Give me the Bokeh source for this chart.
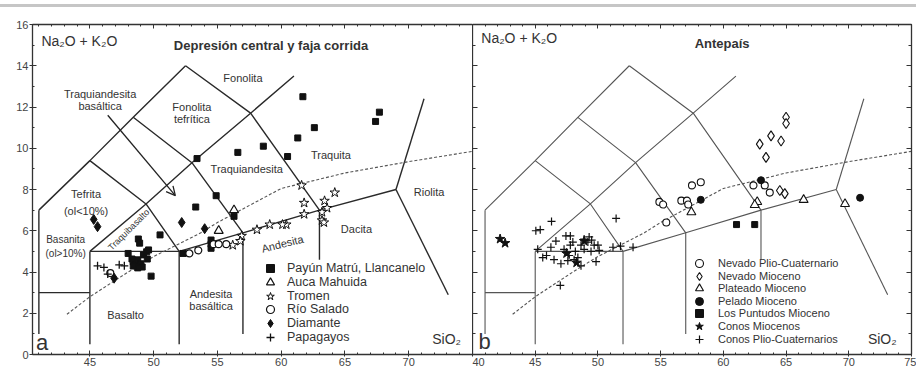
from bokeh.plotting import figure
from bokeh.models import (Range1d, LinearAxis, FixedTicker, Legend, LegendItem,
                          Label, Arrow, OpenHead, Div)
from bokeh.layouts import row, column
from bokeh.embed import file_html
from bokeh.resources import INLINE

FONT = "Liberation Sans"

# ---------------- data ----------------
# TAS field boundaries (SiO2, Na2O+K2O)
bound_x = [
    [41, 41], [41, 45], [45, 45], [41, 45, 48.4, 52.5], [52.5, 57.6, 63],
    [45, 49.4, 53, 57.6, 61], [45, 52], [52, 52], [45, 49.4, 52],
    [48.4, 53, 57], [57, 57], [52, 57, 63, 69], [63, 63], [69, 71.2], [69, 73.1],
]
bound_y = [
    [1.0, 7], [3, 3], [0.5, 5], [7, 9.4, 11.5, 14], [14, 11.7, 7],
    [5, 7.3, 9.3, 11.7, 13.5], [5, 5], [0.5, 5], [9.4, 7.3, 5],
    [11.5, 9.3, 5.9], [1.0, 5.9], [5, 5.9, 7, 8], [4.6, 7], [8, 12.4], [8, 2.9],
]
# Irvine & Baragar alkaline / subalkaline divide
ib_x = [43.2, 45, 48, 50, 53.7, 55, 60, 65, 70, 75]
ib_y = [1.95, 2.8, 4.0, 4.75, 5.9, 6.4, 8.05, 8.8, 9.35, 9.85]

# Panel a: Depresión central y faja corrida
payun_x = [61.7, 67.7, 67.4, 62.6, 61.3, 58.6, 56.6, 60.5, 53.4, 54.9, 53.3, 56.3,
           50.5, 48.8, 48.9, 48.0, 49.8, 52.3, 54.5, 54.5, 54.5,
           48.3, 48.4, 48.6, 48.75, 49.0, 49.2, 49.45, 49.6, 49.5, 49.1, 48.75, 48.4]
payun_y = [12.5, 11.75, 11.3, 11.0, 10.5, 10.1, 9.8, 9.6, 9.5, 7.7, 7.15, 6.7,
           5.8, 5.6, 5.4, 4.9, 3.8, 4.9, 5.15, 5.35, 5.55,
           4.63, 4.49, 4.34, 4.59, 4.4, 4.83, 4.98, 5.07, 4.63, 4.24, 4.2, 4.29]
auca_x = [56.3, 55.1]
auca_y = [7.0, 6.0]
tromen_x = [64.2, 63.4, 61.8, 61.6, 63.6, 63.2, 61.8, 63.2, 63.35, 60.4, 60.1, 59.1,
            58.1, 56.9, 56.8, 56.2]
tromen_y = [7.85, 7.45, 7.35, 8.2, 7.1, 6.9, 6.8, 6.5, 6.4, 6.3, 6.3, 6.3,
            6.05, 5.75, 5.5, 5.3]
salado_x = [52.8, 53.5, 54.7, 55.1, 55.7, 46.6]
salado_y = [4.9, 5.05, 5.35, 5.35, 5.35, 3.95]
diamante_x = [45.3, 45.6, 52.2, 54.0, 46.9]
diamante_y = [6.55, 6.2, 6.4, 6.1, 3.7]
papagayos_x = [45.6, 46.1, 47.3, 47.7, 46.4]
papagayos_y = [4.3, 4.22, 4.35, 4.3, 3.9]

# Panel b: Antepaís
nevpc_x = [57.5, 58.2, 54.9, 55.2, 56.65, 57.1, 57.2, 55.45, 62.4, 63.3, 63.7]
nevpc_y = [8.2, 8.35, 7.4, 7.27, 7.46, 7.46, 7.27, 6.4, 8.2, 8.2, 7.85]
nevm_x = [65.0, 65.0, 63.8, 64.6, 62.9, 63.4, 64.5, 64.9]
nevm_y = [11.5, 11.2, 10.6, 10.35, 10.2, 9.56, 7.95, 7.8]
plat_x = [57.45, 62.7, 62.5, 66.4, 69.7]
plat_y = [6.9, 7.4, 7.25, 7.5, 7.3]
pel_x = [58.2, 63.0, 70.9]
pel_y = [7.5, 8.45, 7.6]
punt_x = [61.05, 62.5]
punt_y = [6.3, 6.3]
conm_x = [42.2, 42.6, 48.9, 47.5, 48.3]
conm_y = [5.6, 5.4, 5.5, 4.9, 4.45]
conpc_x = [46.3, 45.05, 45.4, 51.45, 47.45, 47.8, 46.65, 46.25, 45.2, 45.6, 45.9, 46.5,
           47.05, 48.65, 49.85, 51.2, 51.8, 52.8, 50.1, 49.7, 49.2, 48.9, 48.0, 47.3,
           47.7, 48.4, 48.1, 47.8, 48.65, 49.45, 48.9, 47.6, 47.0, 49.3, 49.5, 50.0, 48.2]
conpc_y = [6.45, 6.0, 6.05, 6.6, 5.75, 5.75, 5.5, 5.2, 5.1, 4.7, 4.8, 4.6,
           4.4, 4.3, 4.5, 5.2, 5.25, 5.2, 5.05, 5.3, 5.45, 5.6, 5.45, 5.1,
           4.8, 4.7, 4.6, 5.3, 5.3, 5.0, 5.1, 4.55, 3.35, 5.7, 5.55, 5.3, 5.0]

legend_a = ["Payún Matrú, Llancanelo", "Auca Mahuida", "Tromen", "Río Salado",
            "Diamante", "Papagayos"]
legend_b = ["Nevado Plio-Cuaternario", "Nevado Mioceno", "Plateado Mioceno",
            "Pelado Mioceno", "Los Puntudos Mioceno", "Conos Miocenos",
            "Conos Plio-Cuaternarios"]

y_ticks = [0, 2, 4, 6, 8, 10, 12, 14, 16]

INK = "#222222"
FIG_H = 361


def style_axis(ax, labels=True, tin=4, tout=2, minor_in=2):
    ax.axis_line_color = "#333333"
    ax.axis_line_width = 1.3
    ax.major_tick_line_color = "#333333"
    ax.minor_tick_line_color = "#333333"
    ax.major_tick_in = tin
    ax.major_tick_out = tout
    ax.minor_tick_in = minor_in
    ax.minor_tick_out = 0
    ax.major_label_text_font = FONT
    ax.major_label_text_font_size = "11px"
    ax.major_label_text_color = "#444444"
    ax.major_label_standoff = 1
    if not labels:
        ax.major_label_text_font_size = "0px"
        ax.major_label_text_color = None
        ax.major_label_standoff = 0


def add_label(p, x, y, text, size="11px", bold=False, angle=0, align="center"):
    p.add_layout(Label(x=x, y=y, text=text, text_font=FONT, text_font_size=size,
                       text_color="#333333", text_align=align, text_baseline="middle",
                       text_font_style="bold" if bold else "normal",
                       angle=angle, angle_units="deg"))


def add_legend(p, labels, renderers, vx, vy_top, step, standoff, font_size):
    # one single-entry legend per row, so rows can be packed closer than the glyph box
    for i, (lab, r) in enumerate(zip(labels, renderers)):
        p.add_layout(Legend(items=[LegendItem(label=lab, renderers=[r])],
                            location=(vx, round(vy_top - step * i)), padding=0, margin=0,
                            spacing=0, border_line_color=None, background_fill_alpha=0,
                            glyph_width=20, glyph_height=20, label_height=12,
                            label_standoff=standoff, label_text_font=FONT,
                            label_text_font_size=font_size, label_text_color="#333333"))


def base_fig(width, xr, border_left, border_right, line_color, line_width):
    p = figure(width=width, height=FIG_H, x_range=Range1d(*xr), y_range=Range1d(0, 16),
               x_axis_type=None, y_axis_type=None, output_backend="svg",
               toolbar_location=None, min_border_left=border_left,
               min_border_right=border_right, min_border_top=17, min_border_bottom=0)
    p.outline_line_color = None
    p.background_fill_color = "white"
    p.border_fill_color = "white"
    p.multi_line(xs=bound_x, ys=bound_y, line_color=line_color, line_width=line_width)
    p.line(ib_x, ib_y, line_color="#555555", line_width=1.1, line_dash="3 2")
    return p


# ---------------- panel a ----------------
p1 = base_fig(472, (40.5, 75), 32, 0, "#2a2a2a", 1.4)
ax = LinearAxis(ticker=FixedTicker(ticks=[45, 50, 55, 60, 65, 70], minor_ticks=list(range(41, 76))))
style_axis(ax)
p1.add_layout(ax, "below")
ax = LinearAxis(ticker=FixedTicker(ticks=[45, 50, 55, 60, 65, 70], minor_ticks=list(range(41, 76))))
style_axis(ax, labels=False, tin=4, tout=0)
p1.add_layout(ax, "above")
ax = LinearAxis(ticker=FixedTicker(ticks=y_ticks, minor_ticks=list(range(0, 17))))
style_axis(ax, tin=4, tout=3)
p1.add_layout(ax, "left")

p1.add_layout(Arrow(end=OpenHead(size=9, line_width=1.3, line_color=INK),
                    x_start=46.4, y_start=11.6, x_end=51.7, y_end=7.7,
                    line_width=1.3, line_color=INK))

r_payun = p1.scatter(payun_x, payun_y, marker="square", size=6, color="#111111")
r_auca = p1.scatter(auca_x, auca_y, marker="triangle", size=9, line_color="#111111",
                    fill_color="white", line_width=1.2)
r_tromen = p1.scatter(tromen_x, tromen_y, marker="star", size=10, line_color="#111111",
                      fill_color="white", line_width=1.0)
r_salado = p1.scatter(salado_x, salado_y, marker="circle", size=7, line_color="#111111",
                      fill_color="white", line_width=1.2)
r_diam = p1.scatter(diamante_x, diamante_y, marker="diamond", size=10, color="#111111")
r_papa = p1.scatter(papagayos_x, papagayos_y, marker="cross", size=8, line_color="#111111",
                    line_width=1.3)

add_legend(p1, legend_a, [r_payun, r_auca, r_tromen, r_salado, r_diam, r_papa],
           228, 76, 13.8, 7, "12.5px")

add_label(p1, 41.2, 15.2, "Na₂O + K₂O", size="14px", align="left")
add_label(p1, 59.2, 15.0, "Depresión central y faja corrida", size="13px", bold=True)
add_label(p1, 57.0, 13.4, "Fonolita")
add_label(p1, 53.0, 12.0, "Fonolita")
add_label(p1, 53.0, 11.4, "tefrítica")
add_label(p1, 45.8, 12.63, "Traquiandesita")
add_label(p1, 45.8, 12.05, "basáltica")
add_label(p1, 63.9, 9.66, "Traquita")
add_label(p1, 57.3, 8.98, "Traquiandesita")
add_label(p1, 71.6, 7.9, "Riolita")
add_label(p1, 44.7, 7.76, "Tefrita")
add_label(p1, 44.7, 6.98, "(ol<10%)")
add_label(p1, 43.1, 5.56, "Basanita", size="10px")
add_label(p1, 43.1, 4.88, "(ol>10%)", size="10px")
add_label(p1, 48.05, 6.05, "Traquibasalto", size="9px", angle=45)
add_label(p1, 54.5, 2.93, "Andesita")
add_label(p1, 54.5, 2.34, "basáltica")
add_label(p1, 47.8, 1.9, "Basalto")
add_label(p1, 60.1, 5.37, "Andesita", angle=14)
add_label(p1, 65.9, 6.1, "Dacita")
add_label(p1, 41.25, 0.6, "a", size="22px")
add_label(p1, 72.97, 0.75, "SiO₂", size="14px")

# ---------------- panel b ----------------
p2 = base_fig(444, (40, 75), 0, 5, "#555555", 1.1)
ax = LinearAxis(ticker=FixedTicker(ticks=[40, 45, 50, 55, 60, 65, 70, 75], minor_ticks=list(range(40, 76))))
style_axis(ax)
p2.add_layout(ax, "below")
ax = LinearAxis(ticker=FixedTicker(ticks=[40, 45, 50, 55, 60, 65, 70, 75], minor_ticks=list(range(40, 76))))
style_axis(ax, labels=False, tin=4, tout=0)
p2.add_layout(ax, "above")
ax = LinearAxis(ticker=FixedTicker(ticks=y_ticks, minor_ticks=list(range(0, 17))))
style_axis(ax, labels=False, tin=5, tout=0, minor_in=3)
p2.add_layout(ax, "left")
ax = LinearAxis(ticker=FixedTicker(ticks=y_ticks, minor_ticks=list(range(0, 17))))
style_axis(ax, labels=False, tin=5, tout=0, minor_in=3)
p2.add_layout(ax, "right")

r_nevpc = p2.scatter(nevpc_x, nevpc_y, marker="circle", size=7, line_color="#111111",
                     fill_color="white", line_width=1.1)
r_nevm = p2.scatter(nevm_x, nevm_y, marker="diamond", size=10, line_color="#111111",
                    fill_color="white", line_width=1.1)
r_plat = p2.scatter(plat_x, plat_y, marker="triangle", size=9, line_color="#111111",
                    fill_color="white", line_width=1.1)
r_pel = p2.scatter(pel_x, pel_y, marker="circle", size=7, color="#111111")
r_punt = p2.scatter(punt_x, punt_y, marker="square", size=6, color="#111111")
r_conm = p2.scatter(conm_x, conm_y, marker="star", size=10, color="#111111")
r_conpc = p2.scatter(conpc_x, conpc_y, marker="cross", size=8, line_color="#111111",
                     line_width=1.2)

add_legend(p2, legend_b, [r_nevpc, r_nevm, r_plat, r_pel, r_punt, r_conm, r_conpc],
           217, 81, 12.6, 9, "11px")

add_label(p2, 40.7, 15.36, "Na₂O + K₂O", size="14px", align="left")
add_label(p2, 59.9, 15.07, "Antepaís", size="13px", bold=True)
add_label(p2, 40.96, 0.65, "b", size="22px")
add_label(p2, 72.67, 0.75, "SiO₂", size="14px")

bar = Div(width=916, height=3, margin=(4, 0, 0, 0), styles={"background-color": "#c6c6c6"})
layout = column(bar, row(p1, p2))

open("out.html", "w").write(file_html(layout, INLINE))
